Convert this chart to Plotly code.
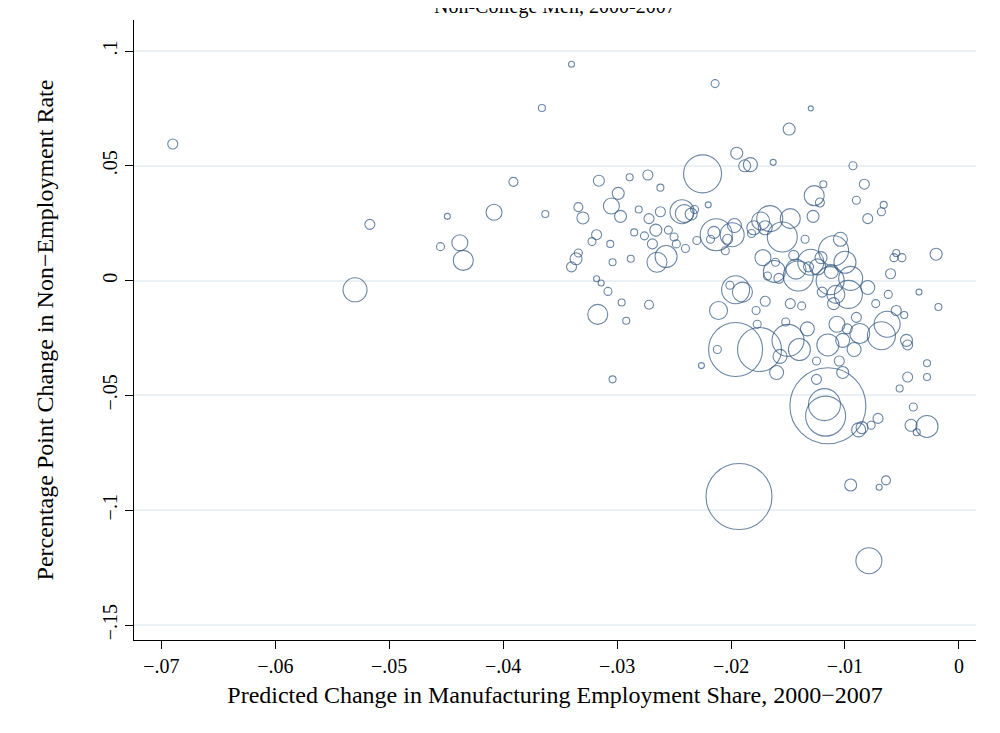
import plotly.graph_objects as go

# predicted change in manufacturing share, change in non-employment rate, marker diameter (weight)
pts = [
    (-0.0690, 0.0595, 10), (-0.0517, 0.0245, 10), (-0.0530, -0.0040, 24), (-0.0455, 0.0148, 8),
    (-0.0449, 0.0280, 6), (-0.0438, 0.0165, 16), (-0.0435, 0.0088, 20), (-0.0408, 0.0298, 16),
    (-0.0391, 0.0430, 9), (-0.0366, 0.0752, 7), (-0.0363, 0.0290, 7), (-0.0340, 0.0942, 6),
    (-0.0340, 0.0060, 10), (-0.0336, 0.0095, 12), (-0.0334, 0.0120, 8), (-0.0334, 0.0320, 9),
    (-0.0330, 0.0273, 12), (-0.0322, 0.0170, 8), (-0.0318, 0.0200, 10), (-0.0316, 0.0435, 11),
    (-0.0317, -0.0147, 20), (-0.0318, 0.0008, 6), (-0.0314, -0.0010, 6), (-0.0308, -0.0047, 8),
    (-0.0306, 0.0160, 7), (-0.0305, 0.0325, 16), (-0.0304, 0.0080, 7), (-0.0304, -0.0430, 7),
    (-0.0299, 0.0380, 12), (-0.0297, 0.0280, 12), (-0.0296, -0.0095, 7), (-0.0292, -0.0175, 7),
    (-0.0289, 0.0450, 7), (-0.0288, 0.0095, 7), (-0.0285, 0.0210, 7), (-0.0281, 0.0310, 7),
    (-0.0276, 0.0195, 8), (-0.0273, 0.0460, 10), (-0.0272, 0.0270, 10), (-0.0272, -0.0105, 9),
    (-0.0269, 0.0160, 10), (-0.0266, 0.0220, 12), (-0.0265, 0.0080, 20), (-0.0262, 0.0405, 7),
    (-0.0262, 0.0300, 10), (-0.0257, 0.0105, 22), (-0.0255, 0.0220, 8), (-0.0250, 0.0190, 8),
    (-0.0248, 0.0160, 8), (-0.0243, 0.0300, 24), (-0.0241, 0.0292, 18), (-0.0240, 0.0140, 8),
    (-0.0235, 0.0290, 12), (-0.0232, 0.0310, 8), (-0.0230, 0.0175, 8), (-0.0225, 0.0465, 38),
    (-0.0226, -0.0370, 6), (-0.0220, 0.0330, 6), (-0.0218, 0.0180, 8), (-0.0215, 0.0210, 12),
    (-0.0214, 0.0858, 8), (-0.0212, -0.0300, 8), (-0.0213, 0.0200, 32), (-0.0211, -0.0130, 18),
    (-0.0205, 0.0130, 8), (-0.0203, 0.0180, 10), (-0.0201, -0.0020, 8), (-0.0199, 0.0200, 24),
    (-0.0197, 0.0240, 14), (-0.0195, 0.0555, 12), (-0.0196, -0.0040, 28), (-0.0196, -0.0300, 54),
    (-0.0193, -0.0940, 66), (-0.0190, -0.0050, 20), (-0.0188, 0.0500, 12), (-0.0183, 0.0505, 14),
    (-0.0182, 0.0205, 8), (-0.0180, 0.0230, 14), (-0.0178, -0.0130, 8), (-0.0177, -0.0190, 8),
    (-0.0175, -0.0300, 44), (-0.0174, 0.0260, 18), (-0.0172, 0.0100, 16), (-0.0170, 0.0230, 14),
    (-0.0170, -0.0090, 10), (-0.0168, 0.0020, 8), (-0.0166, 0.0270, 26), (-0.0163, 0.0515, 6),
    (-0.0162, 0.0040, 22), (-0.0161, 0.0080, 8), (-0.0160, -0.0400, 14), (-0.0158, 0.0010, 10),
    (-0.0157, -0.0330, 14), (-0.0155, 0.0190, 30), (-0.0152, -0.0180, 8), (-0.0150, -0.0260, 32),
    (-0.0149, 0.0660, 12), (-0.0148, 0.0270, 20), (-0.0148, -0.0100, 10), (-0.0145, 0.0110, 10),
    (-0.0143, 0.0050, 20), (-0.0141, 0.0020, 30), (-0.0140, -0.0300, 22), (-0.0138, -0.0110, 8),
    (-0.0135, 0.0180, 8), (-0.0133, -0.0210, 14), (-0.0132, 0.0060, 10), (-0.0130, 0.0080, 26),
    (-0.0130, 0.0750, 5), (-0.0128, 0.0280, 12), (-0.0127, 0.0370, 20), (-0.0125, -0.0430, 10),
    (-0.0125, -0.0350, 8), (-0.0124, 0.0060, 16), (-0.0122, 0.0340, 9), (-0.0121, 0.0100, 12),
    (-0.0120, -0.0050, 10), (-0.0119, 0.0420, 7), (-0.0118, -0.0540, 32), (-0.0117, -0.0590, 40),
    (-0.0115, -0.0545, 76), (-0.0115, -0.0280, 22), (-0.0113, 0.0000, 28), (-0.0112, 0.0040, 14),
    (-0.0110, -0.0100, 12), (-0.0110, 0.0130, 30), (-0.0108, -0.0060, 18), (-0.0107, -0.0190, 16),
    (-0.0105, -0.0350, 10), (-0.0104, 0.0180, 14), (-0.0102, -0.0260, 14), (-0.0102, -0.0400, 12),
    (-0.0100, 0.0080, 22), (-0.0098, -0.0210, 10), (-0.0097, -0.0060, 28), (-0.0095, 0.0010, 24),
    (-0.0095, -0.0890, 12), (-0.0093, 0.0500, 8), (-0.0092, -0.0300, 14), (-0.0090, -0.0160, 10),
    (-0.0090, 0.0350, 8), (-0.0088, -0.0650, 14), (-0.0087, -0.0230, 20), (-0.0085, -0.0640, 12),
    (-0.0083, 0.0420, 10), (-0.0080, 0.0270, 10), (-0.0080, -0.0030, 14), (-0.0079, -0.1220, 26),
    (-0.0077, -0.0630, 8), (-0.0073, -0.0100, 8), (-0.0071, -0.0600, 10), (-0.0070, -0.0900, 6),
    (-0.0068, -0.0240, 28), (-0.0068, 0.0300, 8), (-0.0066, 0.0330, 7), (-0.0064, -0.0870, 9),
    (-0.0063, -0.0190, 26), (-0.0062, -0.0060, 8), (-0.0060, 0.0030, 10), (-0.0057, 0.0100, 8),
    (-0.0055, -0.0130, 10), (-0.0055, 0.0120, 7), (-0.0052, -0.0470, 7), (-0.0050, 0.0100, 8),
    (-0.0048, -0.0150, 7), (-0.0046, -0.0260, 12), (-0.0045, -0.0280, 10), (-0.0045, -0.0420, 10),
    (-0.0042, -0.0630, 12), (-0.0040, -0.0550, 8), (-0.0037, -0.0660, 7), (-0.0035, -0.0050, 6),
    (-0.0028, -0.0635, 22), (-0.0028, -0.0360, 7), (-0.0028, -0.0420, 7), (-0.0020, 0.0115, 12),
    (-0.0018, -0.0115, 7),
]
x = [p[0] for p in pts]
y = [p[1] for p in pts]
w = [p[2] for p in pts]

xticks = [-0.07, -0.06, -0.05, -0.04, -0.03, -0.02, -0.01, 0]
xlabels = ["\u2212.07", "\u2212.06", "\u2212.05", "\u2212.04", "\u2212.03", "\u2212.02", "\u2212.01", "0"]
yticks = [0.1, 0.05, 0, -0.05, -0.1, -0.15]
ylabels = [".1", ".05", "0", "\u2212.05", "\u2212.1", "\u2212.15"]

col = "#2f5680"
fig = go.Figure(go.Scatter(
    x=x, y=y, mode="markers",
    marker=dict(size=w, sizemode="diameter", color="rgba(0,0,0,0)",
                line=dict(color=col, width=1.1)),
))

font = dict(family="Liberation Serif, Times New Roman, serif", size=20, color="black")
fig.update_layout(
    width=1000, height=733, margin=dict(l=126, r=32, t=12, b=101, autoexpand=False),
    paper_bgcolor="white", plot_bgcolor="white", font=font, showlegend=False,
    annotations=[dict(text="Non-College Men, 2000-2007", x=0.5, y=1.0, xref="paper",
                      yref="paper", yshift=14, showarrow=False, yanchor="middle",
                      font=dict(size=20))],
)
fig.update_xaxes(range=[-0.0724, 0.0015], tickvals=xticks, ticktext=xlabels,
                 showgrid=False, zeroline=False, showline=True, linecolor="black",
                 ticks="outside", ticklen=8, tickcolor="black", automargin=False,
                 title=dict(text="Predicted Change in Manufacturing Employment Share, 2000\u22122007",
                            standoff=10))
fig.update_yaxes(range=[-0.1565, 0.1135], tickvals=yticks, ticktext=ylabels, tickangle=-90,
                 showgrid=True, gridcolor="#eaf0f3", gridwidth=2, zeroline=False,
                 showline=True, linecolor="black", ticks="outside", ticklen=8, tickcolor="black",
                 automargin=False,
                 title=dict(text="Percentage Point Change in Non\u2212Employment Rate", standoff=38))
fig.write_html("out.html")
